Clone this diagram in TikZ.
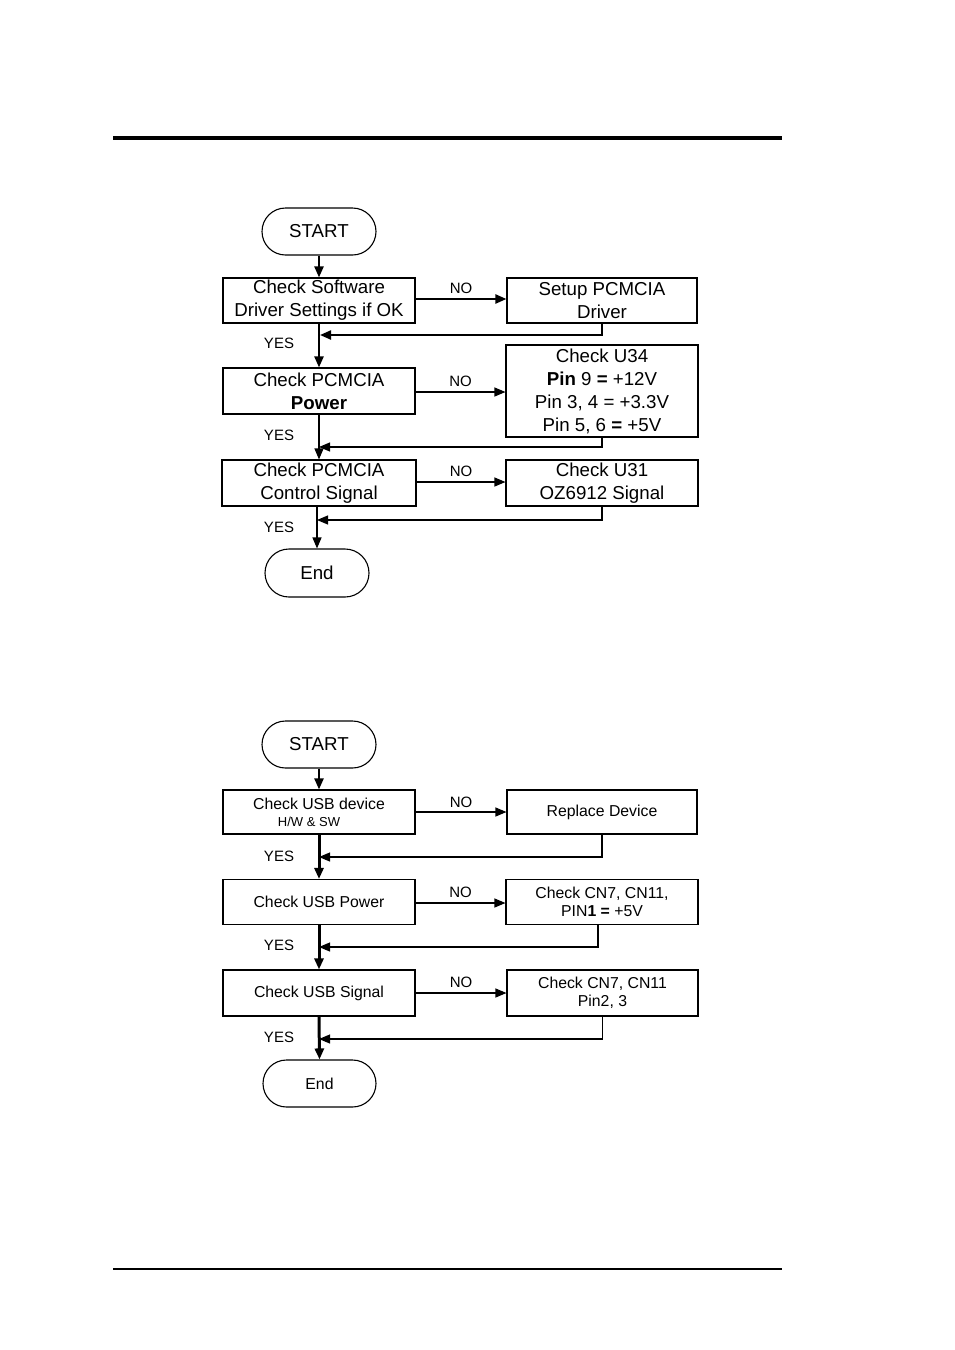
\documentclass[tikz,border=0pt]{standalone}
\usepackage{fontspec}
\setmainfont{Liberation Sans}
\usetikzlibrary{shapes.misc,arrows.meta}
\tikzset{
  box/.style={draw, line width=1.1pt, rectangle, inner sep=0pt, align=center},
  term/.style={draw, line width=1.1pt, rounded rectangle, rounded rectangle arc length=180, inner sep=0pt, align=center},
  bigtxt/.style={font=\fontsize{18.7}{23}\selectfont},
  smalltxt/.style={font=\fontsize{15.8}{18}\selectfont},
  lbl/.style={font=\fontsize{15}{17}\selectfont, inner sep=0pt},
  conn/.style={line width=1.1pt},
  thick conn/.style={line width=2.2pt},
  arr/.style={-{Triangle[length=11pt,width=9pt]}},
}
\begin{document}
\begin{tikzpicture}[x=1pt,y=-1pt]
\useasboundingbox (0,0) rectangle (954,1350);
\fill[white] (0,0) rectangle (954,1350);
% page rules
\coordinate (rl1) at (113,138);
\coordinate (rr1) at (782,138);
\draw[line width=4pt] (rl1) -- (rr1);
\coordinate (rl2) at (113,1269);
\coordinate (rr2) at (782,1269);
\draw[line width=2.5pt] (rl2) -- (rr2);

% ===== top chart =====
\node[term, bigtxt, minimum width=114pt, minimum height=47pt] (s1) at (319,231.5) {START};
\node[box, bigtxt, minimum width=192pt, minimum height=45pt] (a1) at (319,300.5) {Check Software\\Driver Settings if OK};
\node[box, bigtxt, minimum width=190pt, minimum height=45pt] (a2) at (602,300.5) {Setup PCMCIA\\Driver};
\node[box, bigtxt, minimum width=192pt, minimum height=46pt] (a3) at (319,391) {Check PCMCIA\\\textbf{Power}};
\node[box, bigtxt, minimum width=192pt, minimum height=92pt] (a4) at (602,391) {Check U34\\\textbf{Pin} 9 \textbf{=} +12V\\Pin 3, 4 = +3.3V\\Pin 5, 6 \textbf{=} +5V};
\node[box, bigtxt, minimum width=194pt, minimum height=46pt] (a5) at (319,483) {Check PCMCIA\\Control Signal};
\node[box, bigtxt, minimum width=192pt, minimum height=46pt] (a6) at (602,483) {Check U31\\OZ6912 Signal};
\node[term, bigtxt, minimum width=104pt, minimum height=48pt] (e1) at (317,573) {End};

\draw[thick conn, arr] (s1.south) -- (a1.north);
\draw[thick conn, arr] (a1.east |- 0,299) -- (a2.west |- 0,299) node[lbl, midway, above=4pt] {NO};
\coordinate (m1) at (320,335);
\draw[thick conn, arr] (a2.south) |- (m1);
\draw[thick conn, arr] (a1.south) -- (a3.north);
\node[lbl] (y1) at (279,343) {YES};

\draw[conn, arr] (a3.east |- 0,392) -- (a4.west |- 0,392) node[lbl, midway, above=5pt] {NO};
\coordinate (m2) at (319,447);
\draw[conn, arr] (a4.south) |- (m2);
\draw[conn, arr] (a3.south) -- (a5.north);
\node[lbl] (y2) at (279,435) {YES};

\draw[conn, arr] (a5.east |- 0,482) -- (a6.west |- 0,482) node[lbl, midway, above=5pt] {NO};
\coordinate (m3) at (317,520);
\draw[conn, arr] (a6.south) |- (m3);
\draw[conn, arr] (e1.north |- a5.south) -- (e1.north);
\node[lbl] (y3) at (279,527) {YES};

% ===== bottom chart =====
\node[term, bigtxt, minimum width=114pt, minimum height=47pt] (s2) at (319,744.5) {START};
\node[box, smalltxt, minimum width=192pt, minimum height=44pt] (b1) at (319,812) {Check USB device\\[-1pt]{\fontsize{13}{14}\selectfont H/W \& SW}\hspace*{20pt}};
\node[box, smalltxt, minimum width=190pt, minimum height=44pt] (b2) at (602,812) {Replace Device};
\node[box, smalltxt, minimum width=192pt, minimum height=45pt] (b3) at (319,902) {Check USB Power};
\node[box, smalltxt, minimum width=192pt, minimum height=45pt] (b4) at (602,902) {Check CN7, CN11,\\PIN\textbf{1} \textbf{=} +5V};
\node[box, smalltxt, minimum width=192pt, minimum height=46pt] (b5) at (319,993) {Check USB Signal};
\node[box, smalltxt, minimum width=191pt, minimum height=46pt] (b6) at (602.5,993) {Check CN7, CN11\\Pin2, 3};
\node[term, smalltxt, minimum width=113pt, minimum height=47pt] (e2) at (319.5,1083.5) {End};

\draw[thick conn, arr] (s2.south) -- (b1.north);
\draw[conn, arr] (b1.east |- 0,812) -- (b2.west |- 0,812) node[lbl, midway, above=4pt] {NO};
\coordinate (n1) at (319,857);
\draw[conn, arr] (b2.south) |- (n1);
\draw[line width=3pt, arr] (b1.south) -- (b3.north);
\node[lbl] (z1) at (279,856) {YES};

\draw[conn, arr] (b3.east |- 0,903) -- (b4.west |- 0,903) node[lbl, midway, above=5pt] {NO};
\coordinate (n2) at (319,947);
\draw[conn, arr] (b4.south -| 598,0) |- (n2);
\draw[line width=3pt, arr] (b3.south) -- (b5.north);
\node[lbl] (z2) at (279,945) {YES};

\draw[conn, arr] (b5.east |- 0,993) -- (b6.west |- 0,993) node[lbl, midway, above=5pt] {NO};
\coordinate (n3) at (319,1039);
\draw[conn, arr] (b6.south) |- (n3);
\draw[line width=3pt, arr] (b5.south) -- (e2.north);
\node[lbl] (z3) at (279,1037) {YES};
\end{tikzpicture}
\end{document}
